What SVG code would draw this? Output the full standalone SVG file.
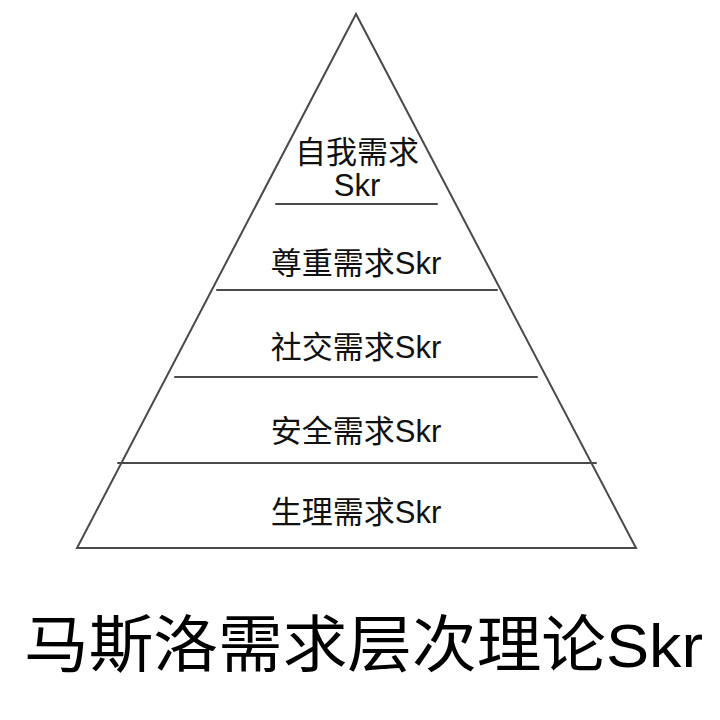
<svg xmlns="http://www.w3.org/2000/svg" width="720" height="720" viewBox="0 0 720 720">
<style>
.ln{stroke:#4a4a4a;stroke-width:2;fill:none;stroke-linecap:round}
.t{font-family:"Liberation Sans","Noto Sans CJK SC",sans-serif;font-size:31px;fill:#111;text-anchor:middle}
.title{font-family:"Liberation Sans","Noto Sans CJK SC",sans-serif;font-size:62px;fill:#000}
</style>
<rect width="720" height="720" fill="#fff"/>
<g id="connectors">
<polygon class="ln" points="356,14 77,548 636,548"/>
<line class="ln" x1="276" y1="204" x2="437" y2="204"/>
<line class="ln" x1="217" y1="290" x2="497" y2="290"/>
<line class="ln" x1="175" y1="377" x2="537" y2="377"/>
<line class="ln" x1="118" y1="463" x2="596" y2="463"/>
</g>
<g id="self"><text class="t" x="357" y="163">自我需求</text><text class="t" x="357" y="196">Skr</text></g>
<g id="esteem"><text class="t" x="356" y="274">尊重需求Skr</text></g>
<g id="social"><text class="t" x="356" y="358">社交需求Skr</text></g>
<g id="safety"><text class="t" x="356" y="442">安全需求Skr</text></g>
<g id="physio"><text class="t" x="356" y="523">生理需求Skr</text></g>
<g id="title"><text class="title" x="24" y="667" textLength="679" lengthAdjust="spacingAndGlyphs">马斯洛需求层次理论Skr</text></g>
</svg>
